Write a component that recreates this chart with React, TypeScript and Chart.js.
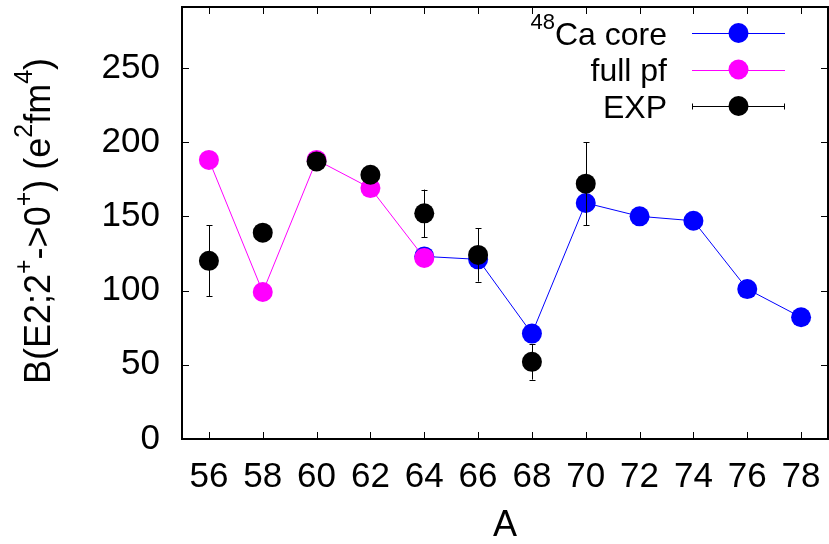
import React, { useEffect, useRef } from 'react';
import { Chart, registerables } from 'chart.js';
Chart.register(...registerables);

const xTicks = [56, 58, 60, 62, 64, 66, 68, 70, 72, 74, 76, 78];
const yTicks = [0, 50, 100, 150, 200, 250];

const coreLabel = 'Ca core';
const coreSup = '48';
const coreA = [64, 66, 68, 70, 72, 74, 76, 78];
const coreB = [123, 121, 71, 159, 150, 147, 101, 82];

const pfLabel = 'full pf';
const pfA = [56, 58, 60, 62, 64];
const pfB = [188, 99, 188, 169, 122];

const expLabel = 'EXP';
const expA = [56, 58, 60, 62, 64, 66, 68, 70];
const expB = [120, 139, 187, 178, 152, 124, 52, 172];
const expErr = [24, 3, 3, 3, 16, 18, 12, 28];

const xTitle = 'A';
// y title pieces: [text, isSuperscript]
const yTitleParts: [string, boolean][] = [
  ['B(E2;2', false], ['+', true], ['->0', false], ['+', true],
  [') (e', false], ['2', true], ['fm', false], ['4', true], [')', false],
];

const FONT = '"Liberation Sans", Arial, Helvetica, sans-serif';

export default function App() {
  const ref = useRef<HTMLCanvasElement>(null);
  useEffect(() => {
    const canvas = ref.current!;
    const toXY = (a: number[], b: number[]) => a.map((x, i) => ({ x, y: b[i] }));

    const framePlugin = {
      id: 'frameTicks',
      afterDraw(chart: any) {
        const { ctx, chartArea: ca, scales } = chart;
        ctx.save();
        ctx.strokeStyle = '#000';
        ctx.lineWidth = 1;
        const L = 7;
        ctx.beginPath();
        for (const v of xTicks) {
          const px = Math.round(scales.x.getPixelForValue(v)) + 0.5;
          ctx.moveTo(px, ca.bottom); ctx.lineTo(px, ca.bottom - L);
          ctx.moveTo(px, ca.top); ctx.lineTo(px, ca.top + L);
        }
        for (const v of yTicks) {
          const py = Math.round(scales.y.getPixelForValue(v)) + 0.5;
          ctx.moveTo(ca.left, py); ctx.lineTo(ca.left + L, py);
          ctx.moveTo(ca.right, py); ctx.lineTo(ca.right - L, py);
        }
        ctx.stroke();
        ctx.lineWidth = 2;
        ctx.strokeRect(ca.left, ca.top, ca.right - ca.left, ca.bottom - ca.top);
        ctx.restore();
      },
    };

    const errPlugin = {
      id: 'errBars',
      afterDatasetsDraw(chart: any) {
        const { ctx, scales } = chart;
        ctx.save();
        ctx.strokeStyle = '#000';
        ctx.lineWidth = 1;
        ctx.beginPath();
        expA.forEach((a, i) => {
          const px = Math.round(scales.x.getPixelForValue(a)) + 0.5;
          const y1 = scales.y.getPixelForValue(expB[i] - expErr[i]);
          const y2 = scales.y.getPixelForValue(expB[i] + expErr[i]);
          ctx.moveTo(px, y1); ctx.lineTo(px, y2);
          ctx.moveTo(px - 3, Math.round(y1) + 0.5); ctx.lineTo(px + 3, Math.round(y1) + 0.5);
          ctx.moveTo(px - 3, Math.round(y2) + 0.5); ctx.lineTo(px + 3, Math.round(y2) + 0.5);
        });
        ctx.stroke();
        ctx.restore();
      },
    };

    const yTitlePlugin = {
      id: 'yTitleRich',
      afterDraw(chart: any) {
        const { ctx, chartArea: ca } = chart;
        const main = `36px ${FONT}`;
        const sup = `25px ${FONT}`;
        ctx.save();
        let W = 0;
        for (const [t, s] of yTitleParts) {
          ctx.font = s ? sup : main;
          W += ctx.measureText(t).width;
        }
        const cy = (ca.top + ca.bottom) / 2 - 2;
        ctx.translate(50, cy);
        ctx.rotate(-Math.PI / 2);
        ctx.fillStyle = '#000';
        ctx.textBaseline = 'alphabetic';
        ctx.textAlign = 'left';
        let x = -W / 2;
        for (const [t, s] of yTitleParts) {
          ctx.font = s ? sup : main;
          ctx.fillText(t, x, s ? -18 : 0);
          x += ctx.measureText(t).width;
        }
        ctx.restore();
      },
    };

    const legendPlugin = {
      id: 'customLegend',
      afterDraw(chart: any) {
        const { ctx } = chart;
        const rows = [
          { sup: coreSup, text: coreLabel, color: '#0000ff', caps: false },
          { sup: '', text: pfLabel, color: '#ff00ff', caps: false },
          { sup: '', text: expLabel, color: '#000000', caps: true },
        ];
        const textRight = 667, x1 = 692, x2 = 785, dotX = 738.5;
        const ys = [33, 69.5, 106];
        ctx.save();
        rows.forEach((r, i) => {
          const y = ys[i];
          ctx.fillStyle = '#000';
          ctx.textBaseline = 'alphabetic';
          ctx.textAlign = 'right';
          ctx.font = `32px ${FONT}`;
          const base = y + 11.5;
          ctx.fillText(r.text, textRight, base);
          if (r.sup) {
            const w = ctx.measureText(r.text).width;
            ctx.font = `22px ${FONT}`;
            ctx.fillText(r.sup, textRight - w, base - 16);
          }
          ctx.strokeStyle = r.color;
          ctx.lineWidth = 1;
          ctx.beginPath();
          const yy = Math.round(y) + 0.5;
          ctx.moveTo(x1, yy); ctx.lineTo(x2, yy);
          if (r.caps) {
            ctx.moveTo(x1 + 0.5, yy - 3); ctx.lineTo(x1 + 0.5, yy + 3);
            ctx.moveTo(x2 - 0.5, yy - 3); ctx.lineTo(x2 - 0.5, yy + 3);
          }
          ctx.stroke();
          ctx.fillStyle = r.color;
          ctx.beginPath();
          ctx.arc(dotX, y, 10, 0, Math.PI * 2);
          ctx.fill();
        });
        ctx.restore();
      },
    };

    const chart = new Chart(canvas, {
      type: 'scatter',
      data: {
        datasets: [
          {
            label: coreLabel,
            data: toXY(coreA, coreB),
            showLine: true,
            borderColor: '#0000ff',
            backgroundColor: '#0000ff',
            borderWidth: 1,
            pointRadius: 10,
            pointBorderWidth: 0,
            order: 2,
          },
          {
            label: pfLabel,
            data: toXY(pfA, pfB),
            showLine: true,
            borderColor: '#ff00ff',
            backgroundColor: '#ff00ff',
            borderWidth: 1,
            pointRadius: 10,
            pointBorderWidth: 0,
            order: 1,
          },
          {
            label: expLabel,
            data: toXY(expA, expB),
            showLine: false,
            borderColor: '#000000',
            backgroundColor: '#000000',
            pointRadius: 10,
            pointBorderWidth: 0,
            order: 0,
          },
        ],
      },
      options: {
        responsive: false,
        animation: false,
        layout: { autoPadding: false, padding: { top: 7, right: 1, left: 0, bottom: 0 } },
        plugins: { legend: { display: false }, tooltip: { enabled: false } },
        scales: {
          x: {
            type: 'linear',
            min: 55,
            max: 79,
            grid: { display: false, drawTicks: false },
            border: { display: false },
            afterBuildTicks: (s: any) => { s.ticks = xTicks.map((v) => ({ value: v })); },
            afterFit: (s: any) => { s.height = 105; s.paddingLeft = 0; s.paddingRight = 0; },
            ticks: {
              color: '#000',
              padding: 21,
              font: { family: FONT, size: 35, lineHeight: 1 },
              callback: (v: any) => String(v),
              maxRotation: 0,
              autoSkip: false,
            },
            title: {
              display: true,
              text: xTitle,
              color: '#000',
              font: { family: FONT, size: 36, lineHeight: 1 },
              padding: { top: 0, bottom: 0 },
            },
          },
          y: {
            type: 'linear',
            min: 0,
            max: 291,
            grid: { display: false, drawTicks: false },
            border: { display: false },
            afterBuildTicks: (s: any) => { s.ticks = yTicks.map((v) => ({ value: v })); },
            afterFit: (s: any) => { s.width = 182; s.paddingTop = 0; s.paddingBottom = 0; },
            ticks: {
              color: '#000',
              padding: 22,
              font: { family: FONT, size: 35, lineHeight: 1 },
              callback: (v: any) => String(v),
            },
            title: { display: false },
          },
        },
      },
      plugins: [errPlugin, framePlugin, legendPlugin, yTitlePlugin],
    } as any);
    return () => chart.destroy();
  }, []);

  return (
    <div style={{ position: 'fixed', left: 0, top: 0, width: 829, height: 544, background: '#fff' }}>
      <canvas ref={ref} width={829} height={544} />
    </div>
  );
}
